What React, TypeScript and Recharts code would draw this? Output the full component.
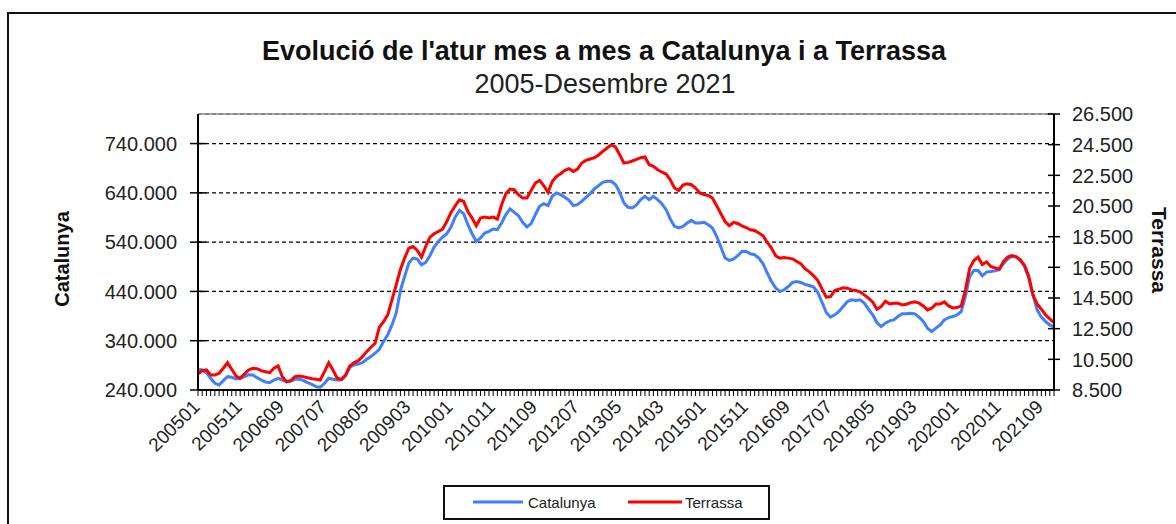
import React from 'react';
import { LineChart, Line, XAxis, YAxis, CartesianGrid, ReferenceLine } from 'recharts';

// Monthly registered unemployment, Jan 2005 - Dec 2021
const years = ['2005', '2006', '2007', '2008', '2009', '2010', '2011', '2012', '2013', '2014', '2015', '2016', '2017', '2018', '2019', '2020', '2021'];
const months = ['01', '02', '03', '04', '05', '06', '07', '08', '09', '10', '11', '12'];
const periods = years.flatMap((y) => months.map((m) => y + m));

const catalunya = [
  282700, 280700, 275200, 263800, 253600, 250200, 258900, 267000, 265800, 262400, 263800, 267000,
  271100, 270500, 265000, 260300, 256300, 254800, 260300, 263800, 260300, 256900, 258300, 261800,
  262400, 258900, 254800, 251600, 246700, 245500, 253600, 263800, 261800, 260300, 260300, 268500,
  286100, 290800, 292900, 295500, 302400, 307700, 314600, 322700, 338200, 351800, 372100, 395900,
  442000, 470300, 497600, 507700, 505700, 494100, 498800, 512400, 530000, 541500, 550400, 557100,
  570700, 591100, 604500, 597800, 575400, 557100, 541500, 548400, 558600, 561800, 566700, 565300,
  578900, 595800, 607400, 600500, 593700, 580100, 570700, 577500, 595800, 612700, 618100, 614100,
  633000, 639900, 636400, 631000, 624900, 614100, 616000, 622800, 631000, 638500, 648000, 654700,
  661500, 663500, 663500, 656800, 641100, 619600, 610600, 609300, 615400, 626300, 633000, 626300,
  633000, 626300, 618100, 605900, 587000, 572000, 568700, 572000, 578900, 584200, 578900, 578900,
  580100, 575400, 568700, 551700, 530000, 507700, 502900, 505700, 512400, 521200, 521200, 516500,
  514500, 507700, 496200, 477300, 460200, 446800, 439800, 443300, 450000, 458200, 460000, 458200,
  454100, 452000, 448800, 437800, 417500, 397200, 387800, 392500, 399200, 409300, 419500, 423000,
  421500, 423000, 416300, 404100, 392500, 376800, 368700, 375600, 380300, 382300, 389000, 394500,
  394500, 395900, 394500, 387800, 378900, 365400, 358500, 365400, 372100, 382300, 387000, 389000,
  392500, 399200, 429700, 470300, 482500, 482500, 471800, 479300, 480500, 481900, 484000, 496200,
  505700, 511000, 509800, 502900, 490700, 467100, 433100, 402600, 387800, 378900, 372100, 367500,
];

const terrassa = [
  9545, 9761, 9806, 9480, 9480, 9590, 9917, 10283, 9852, 9414, 9264, 9545,
  9806, 9917, 9891, 9761, 9695, 9630, 9917, 10067, 9369, 9042, 9107, 9369,
  9414, 9369, 9303, 9238, 9199, 9153, 9695, 10283, 9806, 9264, 9199, 9480,
  10067, 10283, 10413, 10674, 11001, 11288, 11549, 12594, 12960, 13398, 14377, 15350,
  16360, 17100, 17753, 17858, 17597, 17165, 17858, 18471, 18687, 18837, 18993, 19490,
  20078, 20515, 20907, 20796, 20143, 19712, 19209, 19712, 19777, 19712, 19777, 19647,
  20581, 21299, 21606, 21560, 21234, 21017, 21017, 21514, 21998, 22168, 21822, 21384,
  22102, 22429, 22605, 22821, 22931, 22755, 22912, 23304, 23474, 23565, 23650, 23826,
  24061, 24283, 24479, 24348, 23846, 23304, 23343, 23434, 23539, 23650, 23696, 23193,
  23082, 22866, 22716, 22585, 22213, 21671, 21514, 21867, 21952, 21887, 21671, 21345,
  21253, 21188, 21017, 20515, 19993, 19490, 19209, 19425, 19360, 19209, 19098, 18948,
  18902, 18733, 18556, 18119, 17753, 17250, 17100, 17139, 17100, 17054, 16880, 16728,
  16401, 16205, 15944, 15637, 15076, 14553, 14593, 14984, 15076, 15161, 15141, 15030,
  14984, 14899, 14704, 14488, 14246, 13770, 13940, 14292, 14116, 14162, 14162, 14051,
  14096, 14201, 14246, 14162, 13985, 13724, 13835, 14116, 14116, 14246, 13985, 13855,
  13874, 13985, 15030, 16447, 16943, 17165, 16682, 16858, 16551, 16467, 16382, 16878,
  17165, 17270, 17205, 16989, 16643, 15944, 14704, 14116, 13770, 13398, 13136, 12895,
];

const shownLabels = [
  '200501', '200511', '200609', '200707', '200805', '200903', '201001', '201011', '201109', '201207', '201305',
  '201403', '201501', '201511', '201609', '201707', '201805', '201903', '202001', '202011', '202109',
];
const leftTicks = [240000, 340000, 440000, 540000, 640000, 740000];
const rightTicks = [8500, 10500, 12500, 14500, 16500, 18500, 20500, 22500, 24500, 26500];

const data = periods.map((p, i) => ({ period: p, catalunya: catalunya[i], terrassa: terrassa[i] }));

const FONT = "'Liberation Sans', Arial, sans-serif";
const fmt = (v: number) => String(v).replace(/\B(?=(\d{3})+(?!\d))/g, '.');

const LeftTick = ({ x, y, payload }: any) => (
  <g>
    <line x1={x + 13} x2={x + 29} y1={y} y2={y} stroke="#000" strokeWidth={1.5} />
    <text x={x} y={y} dy="0.36em" textAnchor="end" fontSize={20} fontFamily={FONT} fill="#222">
      {fmt(payload.value)}
    </text>
  </g>
);

const RightTick = ({ x, y, payload }: any) => (
  <g>
    <line x1={x - 24} x2={x - 12} y1={y} y2={y} stroke="#000" strokeWidth={1.5} />
    <text x={x} y={y} dy="0.36em" textAnchor="start" fontSize={20} fontFamily={FONT} fill="#222">
      {fmt(payload.value)}
    </text>
  </g>
);

const XTick = ({ x, y, payload }: any) => (
  <g>
    <line x1={x} x2={x} y1={y} y2={y + 6} stroke="#000" strokeWidth={1} />
    {shownLabels.includes(payload.value) && (
      <text
        x={x + 3}
        y={y + 18}
        textAnchor="end"
        transform={`rotate(-45 ${x + 3} ${y + 18})`}
        fontSize={19}
        fontFamily={FONT}
        fill="#222"
      >
        {payload.value}
      </text>
    )}
  </g>
);

export default function App() {
  return (
    <div style={{ position: 'absolute', left: 0, top: 0, width: 1176, height: 524, background: '#fff', overflow: 'hidden' }}>
      <div style={{ position: 'absolute', left: 7, top: 12, width: 1300, height: 600, border: '2px solid #111' }} />
      <div style={{ position: 'absolute', left: 0, top: 0 }}>
        <LineChart width={1176} height={524} data={data} margin={{ top: 114, right: 0, bottom: 0, left: 0 }}>
          <CartesianGrid yAxisId="left" vertical={false} stroke="#000" strokeDasharray="4 3" strokeWidth={1.2} />
          <ReferenceLine yAxisId="left" y={800000} stroke="#888" strokeWidth={1.5} />
          <XAxis
            dataKey="period"
            interval={0}
            height={134}
            tickSize={0}
            tickMargin={0}
            tickLine={false}
            tick={XTick}
            axisLine={{ stroke: '#000', strokeWidth: 2 }}
          />
          <YAxis
            yAxisId="left"
            width={198}
            domain={[240000, 800000]}
            ticks={leftTicks}
            tickSize={0}
            tickMargin={21}
            tickLine={false}
            tick={LeftTick}
            axisLine={{ stroke: '#000', strokeWidth: 2 }}
          />
          <YAxis
            yAxisId="right"
            orientation="right"
            width={122}
            domain={[8500, 26500]}
            ticks={rightTicks}
            tickSize={0}
            tickMargin={18}
            tickLine={false}
            tick={RightTick}
            axisLine={{ stroke: '#000', strokeWidth: 2 }}
          />
          <Line yAxisId="left" type="linear" dataKey="catalunya" name="Catalunya" stroke="#3f7fff" strokeWidth={3} dot={false} isAnimationActive={false} />
          <Line yAxisId="right" type="linear" dataKey="terrassa" name="Terrassa" stroke="#ff0000" strokeWidth={3} dot={false} isAnimationActive={false} />
        </LineChart>
      </div>
      <svg width={1176} height={524} style={{ position: 'absolute', left: 0, top: 0, pointerEvents: 'none' }} fontFamily={FONT}>
        <text x={604} y={60} textAnchor="middle" fontSize={27} fontWeight="bold" fill="#111">
          Evolució de l'atur mes a mes a Catalunya i a Terrassa
        </text>
        <text x={605} y={93} textAnchor="middle" fontSize={27} fill="#222">
          2005-Desembre 2021
        </text>
        <text x={69} y={259} textAnchor="middle" fontSize={20} fontWeight="bold" fill="#111" transform="rotate(-90 69 259)">
          Catalunya
        </text>
        <text x={1152} y={250} textAnchor="middle" fontSize={21} fontWeight="bold" fill="#111" transform="rotate(90 1152 250)">
          Terrassa
        </text>
        <rect x={444} y={486} width={325} height={33} fill="#fff" stroke="#111" strokeWidth={2} />
        <line x1={473} x2={523} y1={502} y2={502} stroke="#3f7fff" strokeWidth={3} />
        <text x={528} y={508} fontSize={15} fill="#222">Catalunya</text>
        <line x1={628} x2={682} y1={502} y2={502} stroke="#ff0000" strokeWidth={3} />
        <text x={685} y={508} fontSize={15} fill="#222">Terrassa</text>
      </svg>
    </div>
  );
}
